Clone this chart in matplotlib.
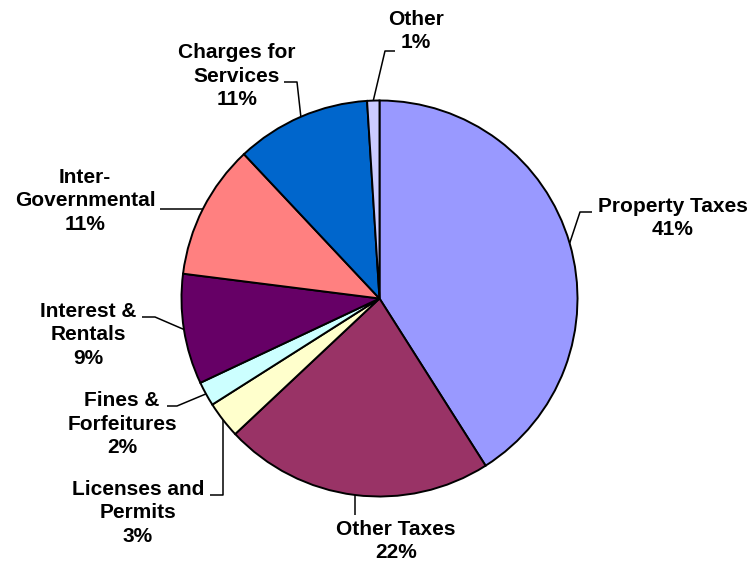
#! python3

import numpy as np
import matplotlib as mpl
import matplotlib.pyplot as plt

categories = ['Property Taxes', 'Other Taxes', 'Licenses and\nPermits',
              'Fines &\nForfeitures', 'Interest &\nRentals', 'Inter-\nGovernmental',
              'Charges for\nServices', 'Other']
shares = [41, 22, 3, 2, 9, 11, 11, 1]
colors = ['#9999FF', '#993366', '#FFFFCC', '#CCFFFF',
          '#660066', '#FF8080', '#0066CC', '#CCCCFF']

def run():
  W, H = 751, 568
  center = (379.5, 298.5)
  radius = 198

  # label block centres, pixel coords (y down)
  label_pos = [(673, 218), (396, 541), (138, 513), (122, 424),
               (88, 335), (85, 201), (237, 76), (416, 31)]
  # leader lines: first leg ('v', y) drops straight down, ('h', x) runs
  # straight across, otherwise plain points
  leaders = [[(580, 212), (592, 212)],
             [('v', 515)],
             [('v', 495), (210, 495)],
             [(177, 406), (167, 406)],
             [(155, 317), (142, 317)],
             [('h', 160)],
             [(297, 82), (284, 82)],
             [(385, 51), (395, 51)]]

  fig = plt.figure(figsize=(W / 100, H / 100), dpi=100)
  ax = fig.add_axes([0, 0, 1, 1])
  wedges, _ = ax.pie(shares, colors=colors, center=center, radius=radius,
                     startangle=-90, counterclock=True,
                     wedgeprops=dict(edgecolor='black', linewidth=1.4))
  ax.set_xlim(0, W)
  ax.set_ylim(H, 0)
  ax.set_aspect('equal')
  ax.axis('off')

  for w, name, v, pos, pts in zip(wedges, categories, shares, label_pos, leaders):
    mid = np.deg2rad((w.theta1 + w.theta2) / 2)
    x0 = center[0] + radius * np.cos(mid)
    y0 = center[1] + radius * np.sin(mid)
    xs, ys = [x0], [y0]
    for p in pts:
      if p[0] == 'v':
        xs.append(x0)
        ys.append(p[1])
      elif p[0] == 'h':
        xs.append(p[1])
        ys.append(y0)
      else:
        xs.append(p[0])
        ys.append(p[1])
    ax.plot(xs, ys, color='black', linewidth=1.1, solid_capstyle='butt')
    ax.text(pos[0], pos[1], '%s\n%d%%' % (name, v), ha='center', va='center',
            multialignment='center', fontsize=15, fontweight='bold',
            family='Liberation Sans', linespacing=1.27)

  fig.savefig('out.png', dpi=100)

if __name__ == '__main__':
  run()
